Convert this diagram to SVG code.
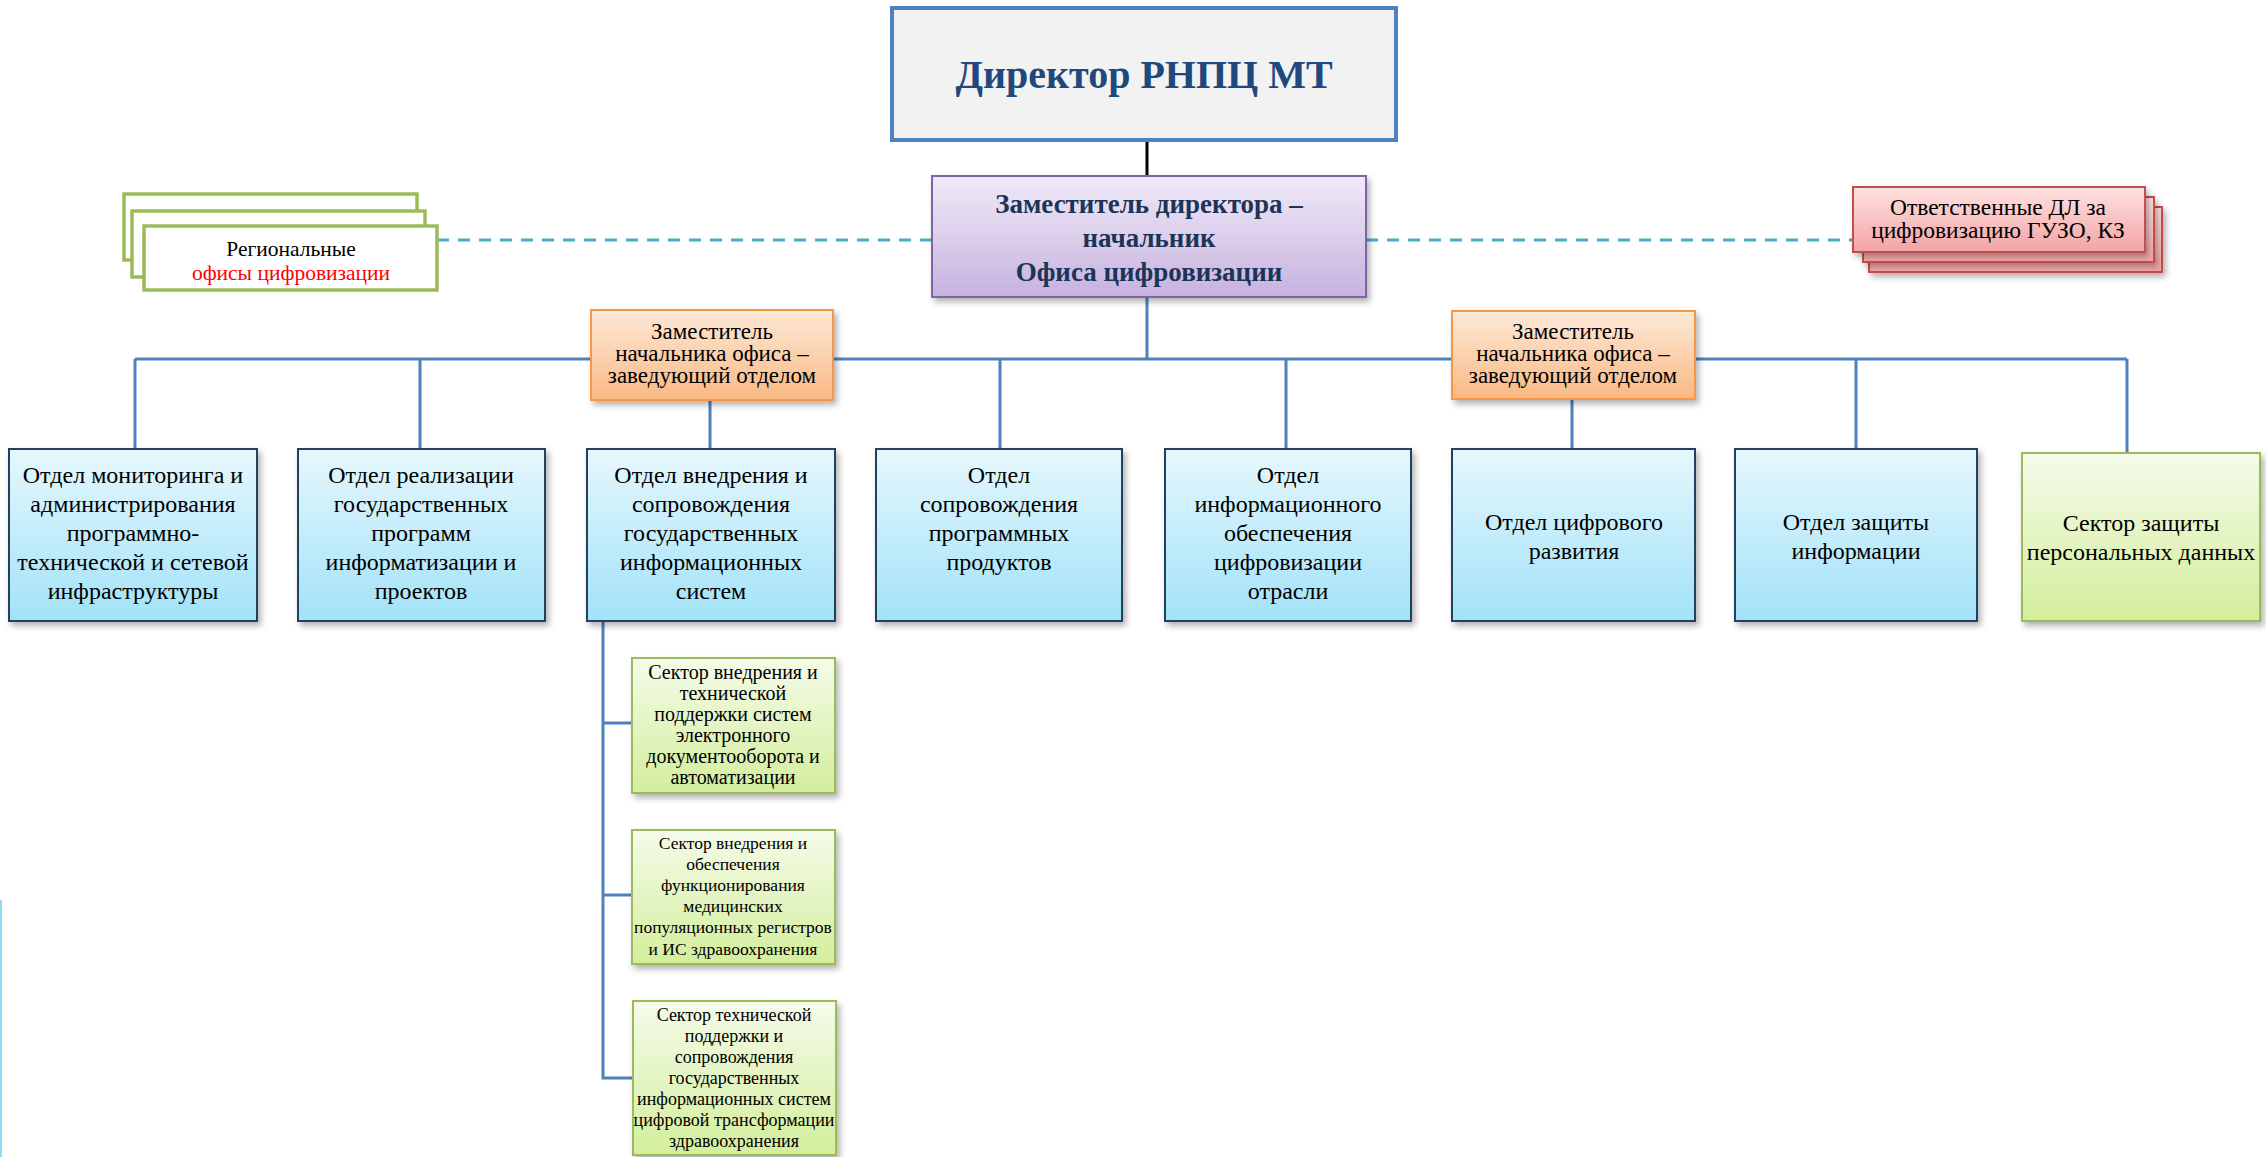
<svg xmlns="http://www.w3.org/2000/svg" width="2266" height="1157" viewBox="0 0 2266 1157">
<style>
.t{font-family:"Liberation Serif","Times New Roman",serif;text-anchor:middle;fill:#000}
.d{font-size:24px}
.s1{font-size:20px}
.s2{font-size:17.5px}
.s3{font-size:18px}
.o{font-size:23px}
.dept{fill:url(#gBlue);stroke:#243f60;stroke-width:2}
.sec{fill:url(#gGreen);stroke:#9bbb59;stroke-width:2}
.org{fill:url(#gOrange);stroke:#f79646;stroke-width:2}
.conn{stroke:#4f81bd;stroke-width:3;fill:none}
.dash{stroke:#4bacc6;stroke-width:3;stroke-dasharray:12 9;fill:none}
</style>
<defs>
<linearGradient id="gBlue" x1="0" y1="0" x2="0" y2="1"><stop offset="0" stop-color="#e6f7fd"/><stop offset="1" stop-color="#a2e2f8"/></linearGradient>
<linearGradient id="gGreen" x1="0" y1="0" x2="0" y2="1"><stop offset="0" stop-color="#f5fbea"/><stop offset="1" stop-color="#d3ee9c"/></linearGradient>
<linearGradient id="gOrange" x1="0" y1="0" x2="0" y2="1"><stop offset="0" stop-color="#fde9d8"/><stop offset="1" stop-color="#f9b983"/></linearGradient>
<linearGradient id="gPurple" x1="0" y1="0" x2="0" y2="1"><stop offset="0" stop-color="#f0eaf7"/><stop offset="1" stop-color="#c6b2df"/></linearGradient>
<linearGradient id="gPink" x1="0" y1="0" x2="0" y2="1"><stop offset="0" stop-color="#ffe2e2"/><stop offset="1" stop-color="#f3a3a3"/></linearGradient>
<filter id="sh" x="-10%" y="-10%" width="125%" height="130%"><feDropShadow dx="3" dy="4" stdDeviation="3" flood-color="#000" flood-opacity="0.3"/></filter>
</defs>
<rect x="0" y="0" width="2266" height="1157" fill="#ffffff"/>
<rect x="0" y="900" width="2" height="257" fill="#92d9f2"/>

<g id="connectors">
<line x1="1147" y1="140" x2="1147" y2="176" stroke="#000" stroke-width="3"/>
<line class="conn" x1="1147" y1="297" x2="1147" y2="359"/>
<line class="conn" x1="135" y1="359" x2="2127" y2="359"/>
<line class="conn" x1="135" y1="359" x2="135" y2="449"/>
<line class="conn" x1="420" y1="359" x2="420" y2="449"/>
<line class="conn" x1="710" y1="400" x2="710" y2="449"/>
<line class="conn" x1="1000" y1="359" x2="1000" y2="449"/>
<line class="conn" x1="1286" y1="359" x2="1286" y2="449"/>
<line class="conn" x1="1572" y1="399" x2="1572" y2="449"/>
<line class="conn" x1="1856" y1="359" x2="1856" y2="449"/>
<line class="conn" x1="2127" y1="359" x2="2127" y2="453"/>
<polyline class="conn" points="603,621 603,1078 632,1078"/>
<line class="conn" x1="603" y1="723" x2="632" y2="723"/>
<line class="conn" x1="603" y1="895" x2="632" y2="895"/>
<line class="dash" x1="437" y1="240" x2="932" y2="240"/>
<line class="dash" x1="1366" y1="240" x2="1853" y2="240"/>
</g>

<g id="director">
<rect x="892" y="8" width="504" height="132" fill="#f2f2f2" stroke="#4f81bd" stroke-width="4"/>
<text class="t" x="1144" y="88" style="font-size:40px;font-weight:bold;fill:#1f497d">Директор РНПЦ МТ</text>
</g>

<g id="deputy-director">
<rect x="932" y="176" width="434" height="121" fill="url(#gPurple)" stroke="#8064a2" stroke-width="2" filter="url(#sh)"/>
<text class="t" style="font-size:27px;font-weight:bold;fill:#1c3456"><tspan x="1149" y="213">Заместитель директора –</tspan><tspan x="1149" y="247">начальник</tspan><tspan x="1149" y="281">Офиса цифровизации</tspan></text>
</g>

<g id="regional-offices">
<rect x="124" y="194" width="293" height="66" fill="#fff" stroke="#9bbb59" stroke-width="3.5"/>
<rect x="132" y="211" width="293" height="66" fill="#fff" stroke="#9bbb59" stroke-width="3.5"/>
<rect x="144" y="226" width="293" height="64" fill="#fff" stroke="#9bbb59" stroke-width="3.5"/>
<text class="t" style="font-size:21.5px"><tspan x="291" y="256">Региональные</tspan><tspan x="291" y="280" fill="#ff0000">офисы цифровизации</tspan></text>
</g>

<g id="responsible">
<rect x="1869" y="207" width="293" height="65" fill="url(#gPink)" stroke="#c0504d" stroke-width="2" filter="url(#sh)"/>
<rect x="1863" y="197" width="291" height="65" fill="url(#gPink)" stroke="#c0504d" stroke-width="2" filter="url(#sh)"/>
<rect x="1853" y="187" width="292" height="65" fill="url(#gPink)" stroke="#c0504d" stroke-width="2" filter="url(#sh)"/>
<text class="t" style="font-size:23.5px"><tspan x="1998" y="215">Ответственные ДЛ за</tspan><tspan x="1998" y="238">цифровизацию ГУЗО, КЗ</tspan></text>
</g>

<g id="deputy-head-1">
<rect class="org" x="591" y="310" width="242" height="90" filter="url(#sh)"/>
<text class="t o"><tspan x="712" y="339">Заместитель</tspan><tspan x="712" y="361">начальника офиса –</tspan><tspan x="712" y="383">заведующий отделом</tspan></text>
</g>

<g id="deputy-head-2">
<rect class="org" x="1452" y="311" width="243" height="88" filter="url(#sh)"/>
<text class="t o"><tspan x="1573" y="339">Заместитель</tspan><tspan x="1573" y="361">начальника офиса –</tspan><tspan x="1573" y="383">заведующий отделом</tspan></text>
</g>

<g id="dept-monitoring">
<rect class="dept" x="9" y="449" width="248" height="172" filter="url(#sh)"/>
<text class="t d"><tspan x="133" y="483">Отдел мониторинга и</tspan><tspan x="133" y="512">администрирования</tspan><tspan x="133" y="541">программно-</tspan><tspan x="133" y="570">технической и сетевой</tspan><tspan x="133" y="599">инфраструктуры</tspan></text>
</g>

<g id="dept-programs">
<rect class="dept" x="298" y="449" width="247" height="172" filter="url(#sh)"/>
<text class="t d"><tspan x="421" y="483">Отдел реализации</tspan><tspan x="421" y="512">государственных</tspan><tspan x="421" y="541">программ</tspan><tspan x="421" y="570">информатизации и</tspan><tspan x="421" y="599">проектов</tspan></text>
</g>

<g id="dept-gis">
<rect class="dept" x="587" y="449" width="248" height="172" filter="url(#sh)"/>
<text class="t d"><tspan x="711" y="483">Отдел внедрения и</tspan><tspan x="711" y="512">сопровождения</tspan><tspan x="711" y="541">государственных</tspan><tspan x="711" y="570">информационных</tspan><tspan x="711" y="599">систем</tspan></text>
</g>

<g id="dept-software">
<rect class="dept" x="876" y="449" width="246" height="172" filter="url(#sh)"/>
<text class="t d"><tspan x="999" y="483">Отдел</tspan><tspan x="999" y="512">сопровождения</tspan><tspan x="999" y="541">программных</tspan><tspan x="999" y="570">продуктов</tspan></text>
</g>

<g id="dept-info-support">
<rect class="dept" x="1165" y="449" width="246" height="172" filter="url(#sh)"/>
<text class="t d"><tspan x="1288" y="483">Отдел</tspan><tspan x="1288" y="512">информационного</tspan><tspan x="1288" y="541">обеспечения</tspan><tspan x="1288" y="570">цифровизации</tspan><tspan x="1288" y="599">отрасли</tspan></text>
</g>

<g id="dept-digital">
<rect class="dept" x="1452" y="449" width="243" height="172" filter="url(#sh)"/>
<text class="t d"><tspan x="1574" y="530">Отдел цифрового</tspan><tspan x="1574" y="559">развития</tspan></text>
</g>

<g id="dept-security">
<rect class="dept" x="1735" y="449" width="242" height="172" filter="url(#sh)"/>
<text class="t d"><tspan x="1856" y="530">Отдел защиты</tspan><tspan x="1856" y="559">информации</tspan></text>
</g>

<g id="sector-personal-data">
<rect class="sec" x="2022" y="453" width="238" height="168" filter="url(#sh)"/>
<text class="t d"><tspan x="2141" y="531">Сектор защиты</tspan><tspan x="2141" y="560">персональных данных</tspan></text>
</g>

<g id="sector-edo">
<rect class="sec" x="632" y="658" width="203" height="135" filter="url(#sh)"/>
<text class="t s1"><tspan x="733" y="679">Сектор внедрения и</tspan><tspan x="733" y="700">технической</tspan><tspan x="733" y="721">поддержки систем</tspan><tspan x="733" y="742">электронного</tspan><tspan x="733" y="763">документооборота и</tspan><tspan x="733" y="784">автоматизации</tspan></text>
</g>

<g id="sector-registers">
<rect class="sec" x="632" y="830" width="203" height="134" filter="url(#sh)"/>
<text class="t s2"><tspan x="733" y="849">Сектор внедрения и</tspan><tspan x="733" y="870">обеспечения</tspan><tspan x="733" y="891">функционирования</tspan><tspan x="733" y="912">медицинских</tspan><tspan x="733" y="933">популяционных регистров</tspan><tspan x="733" y="955">и ИС здравоохранения</tspan></text>
</g>

<g id="sector-tech-support">
<rect class="sec" x="633" y="1001" width="203" height="154" filter="url(#sh)"/>
<text class="t s3"><tspan x="734" y="1021">Сектор технической</tspan><tspan x="734" y="1042">поддержки и</tspan><tspan x="734" y="1063">сопровождения</tspan><tspan x="734" y="1084">государственных</tspan><tspan x="734" y="1105">информационных систем</tspan><tspan x="734" y="1126">цифровой трансформации</tspan><tspan x="734" y="1147">здравоохранения</tspan></text>
</g>
</svg>
